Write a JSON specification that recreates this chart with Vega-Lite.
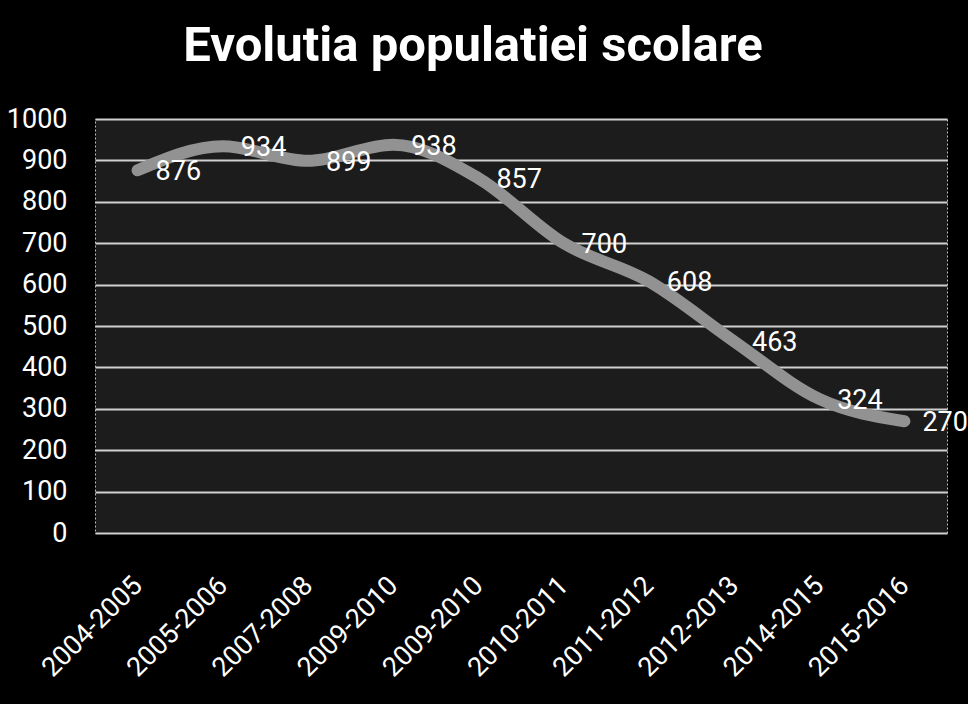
{
  "$schema": "https://vega.github.io/schema/vega-lite/v6.json",
  "autosize": {"type": "none"},
  "width": 852,
  "height": 414,
  "padding": {"left": 95, "top": 119, "right": 21, "bottom": 171},
  "background": "#000000",
  "title": {
    "text": "Evolutia populatiei scolare",
    "color": "#ffffff",
    "font": "Roboto, sans-serif",
    "fontSize": 49,
    "fontWeight": "bold",
    "anchor": "middle",
    "dx": -48,
    "offset": 34
  },
  "config": {
    "view": {"fill": "#1c1c1c", "stroke": "#bdbdbd", "strokeWidth": 1, "strokeDash": [2, 2]},
    "font": "Roboto, sans-serif"
  },
  "data": {
    "values": [
      {"idx": 0, "period": "2004-2005", "value": 876},
      {"idx": 1, "period": "2005-2006", "value": 934},
      {"idx": 2, "period": "2007-2008", "value": 899},
      {"idx": 3, "period": "2009-2010", "value": 938},
      {"idx": 4, "period": "2009-2010", "value": 857},
      {"idx": 5, "period": "2010-2011", "value": 700},
      {"idx": 6, "period": "2011-2012", "value": 608},
      {"idx": 7, "period": "2012-2013", "value": 463},
      {"idx": 8, "period": "2014-2015", "value": 324},
      {"idx": 9, "period": "2015-2016", "value": 270}
    ]
  },
  "encoding": {
    "x": {
      "field": "idx",
      "type": "ordinal",
      "scale": {"paddingInner": 0, "paddingOuter": 0},
      "axis": {
        "title": null,
        "labelAngle": -45,
        "labelAlign": "right",
        "labelBaseline": "middle",
        "labelColor": "#ffffff",
        "labelFontSize": 27,
        "labelPadding": 48,
        "ticks": false,
        "domain": false,
        "labelExpr": "['2004-2005','2005-2006','2007-2008','2009-2010','2009-2010','2010-2011','2011-2012','2012-2013','2014-2015','2015-2016'][datum.value]"
      }
    },
    "y": {
      "field": "value",
      "type": "quantitative",
      "scale": {"domain": [0, 1000], "nice": false},
      "axis": {
        "title": null,
        "format": "d",
        "values": [0, 100, 200, 300, 400, 500, 600, 700, 800, 900, 1000],
        "labelColor": "#ffffff",
        "labelFontSize": 27,
        "labelPadding": 28,
        "ticks": false,
        "domain": false,
        "gridColor": "#d0d0d0",
        "gridWidth": 2
      }
    }
  },
  "layer": [
    {
      "mark": {"type": "line", "interpolate": "monotone", "color": "#929292", "strokeWidth": 12, "strokeCap": "round", "strokeJoin": "round"}
    },
    {
      "mark": {"type": "text", "align": "left", "baseline": "middle", "dx": 18, "dy": 2, "color": "#ffffff", "fontSize": 27},
      "encoding": {"text": {"field": "value", "type": "quantitative"}}
    }
  ]
}
